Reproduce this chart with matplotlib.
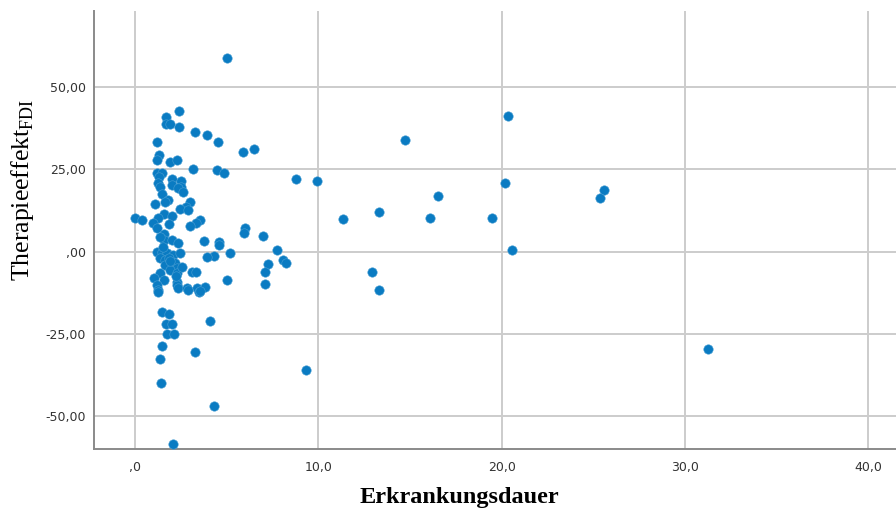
import matplotlib
matplotlib.use("Agg")
import matplotlib.pyplot as plt

# Erkrankungsdauer (x) and Therapieeffekt FDI (y)
dauer = [
    5.05, 2.43, 1.69, 1.69, 1.94, 2.43, 3.27, 3.93, 4.53, 1.20,
    5.92, 6.51, 1.33, 1.20, 1.94, 2.29, 3.20, 4.51, 4.86, 1.20,
    1.51, 1.33, 2.02, 2.53, 2.02, 2.53, 1.29, 1.38, 2.38, 2.65,
    1.47, 1.80, 1.65, 1.11, 3.02, 2.80, 2.47, 2.92, 1.62, 2.02,
    0.02, 0.41, 1.29, 1.01, 1.89, 3.56, 3.34, 3.02, 1.23, 1.62,
    6.02, 5.98, 1.62, 2.02, 2.38, 3.78, 4.60, 4.60, 1.20, 1.47,
    1.75, 2.11, 2.47, 5.20, 4.34, 3.93, 1.38, 1.65, 2.02, 2.20,
    1.65, 2.29, 1.93, 3.11, 3.33, 1.38, 2.29, 1.07, 1.62, 2.29,
    5.02, 2.30, 2.34, 2.84, 3.38, 3.84, 1.20, 1.29, 1.29, 2.93,
    3.51, 1.51, 1.87, 1.69, 2.05, 1.78, 2.14, 4.11, 1.51, 3.29,
    1.38, 1.42, 4.34, 2.11, 9.35, 7.02, 7.78, 8.11, 8.25, 7.29,
    7.11, 7.11, 3.56, 8.78, 9.93, 20.33, 14.76, 20.19, 16.51, 13.33,
    11.33, 16.09, 19.49, 20.58, 12.91, 13.33, 25.60, 25.35, 31.26, 1.55,
    1.85, 2.25, 1.40, 1.90, 2.60,
]
effekt = [
    58.8, 42.8, 41.0, 38.8, 38.8, 37.8, 36.3, 35.4, 33.3, 33.3,
    30.3, 31.3, 29.5, 27.9, 27.3, 27.9, 25.3, 24.9, 24.0, 24.0,
    24.0, 22.8, 22.0, 21.6, 20.3, 19.8, 20.8, 19.8, 19.3, 18.2,
    17.7, 15.7, 15.2, 14.4, 15.0, 13.7, 12.9, 12.7, 11.4, 10.9,
    10.2, 9.6, 10.2, 8.8, 8.3, 9.6, 8.8, 7.8, 7.1, 5.3,
    7.1, 5.6, 3.6, 3.6, 2.5, 3.3, 3.0, 2.0, 0.0, 0.0,
    -0.5, -1.0, -0.5, -0.5, -1.2, -1.5, -2.0, -2.5, -3.0, -3.5,
    -4.0, -5.0, -5.6, -6.1, -6.1, -6.6, -6.6, -8.1, -8.6, -9.1,
    -8.5, -10.1, -11.1, -11.1, -11.1, -10.8, -10.1, -11.6, -12.3, -11.6,
    -12.2, -18.4, -19.0, -22.1, -22.1, -25.1, -25.1, -21.0, -28.6, -30.4,
    -32.5, -40.0, -46.9, -58.5, -36.0, 4.9, 0.5, -2.5, -3.5, -3.8,
    -6.1, -9.9, -11.9, 22.0, 21.5, 41.3, 33.9, 20.9, 16.8, 12.0,
    9.9, 10.4, 10.4, 0.4, -6.1, -11.5, 18.8, 16.3, -29.5, 1.5,
    -1.8, -7.5, 4.5, -2.8, -4.5,
]

x_ticks = [0, 10, 20, 30, 40]
x_ticklabels = [",0", "10,0", "20,0", "30,0", "40,0"]
y_ticks = [-50, -25, 0, 25, 50]
y_ticklabels = ["-50,00", "-25,00", ",00", "25,00", "50,00"]

plt.rcParams["mathtext.fontset"] = "custom"
plt.rcParams["mathtext.rm"] = "Liberation Serif"

fig = plt.figure(figsize=(8.96, 5.14), dpi=100)
ax = fig.add_axes([94.3 / 896, 1 - 449 / 514, 1 - 94.3 / 896, (449 - 11) / 514])

ax.scatter(dauer, effekt, s=46, color="#0a7bc2", edgecolors="#4a9fd4",
           linewidths=0.4, zorder=3)

ax.set_xlim(-2.2, 41.5)
ax.set_ylim(-60.0, 73.2)
ax.set_xticks(x_ticks)
ax.set_xticklabels(x_ticklabels)
ax.set_yticks(y_ticks)
ax.set_yticklabels(y_ticklabels)
ax.tick_params(length=0, labelsize=9, colors="#333333", pad=6)
ax.tick_params(axis="x", pad=9)

ax.grid(True, color="#cccccc", linewidth=1.4, zorder=0)
ax.set_axisbelow(True)
for side in ["top", "right"]:
    ax.spines[side].set_visible(False)
for side in ["left", "bottom"]:
    ax.spines[side].set_color("#8a8a8a")
    ax.spines[side].set_linewidth(1.4)

fig.text(459 / 896, 1 - 497 / 514, "Erkrankungsdauer", family="Liberation Serif",
         fontweight="bold", fontsize=17.5, ha="center", va="center")
fig.text(22 / 896, 1 - 190 / 514, r"Therapieeffekt$_{\mathrm{FDI}}$",
         family="Liberation Serif", fontsize=18.5, rotation=90,
         ha="center", va="center")

fig.savefig("out.png", dpi=100)
